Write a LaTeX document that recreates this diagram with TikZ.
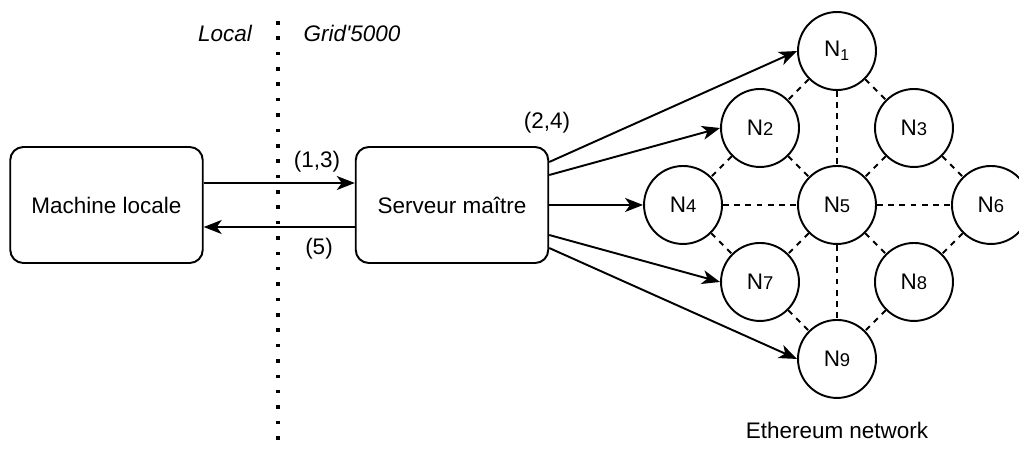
\documentclass[tikz,border=0pt]{standalone}
\usepackage{fontspec}
\setmainfont{Liberation Sans}
\usetikzlibrary{arrows.meta}
\newcommand{\peerlabel}[1]{N{\fontsize{10.5}{12}\selectfont #1}}

\begin{document}
\begin{tikzpicture}[x=0.02cm, y=-0.02cm, node distance={2.178cm},
		font=\fontsize{12.8}{15}\selectfont, line width=1.1pt,
		main/.style = {draw, circle, minimum size=1.56cm, inner sep=0pt},
		box/.style = {draw, rounded corners=0.26cm, minimum width=3.85cm, minimum height=2.32cm},
		link/.style = {-{Stealth[length=0.36cm, width=0.28cm, inset=0.1cm]}},
		peer/.style = {dash pattern=on 3.2pt off 3.2pt},
		sep/.style = {line width=2pt, dash pattern=on 2pt off 6.75pt}]
			\useasboundingbox (0,0) rectangle (1019,450);
			\node[box] (local) at (106.5,205) {Machine locale};
			\node[box] (maitre) at (452,205) {Serveur maître};
			\node[main] (1) at (837,51) {N\textsubscript{1}};
			\node[main] (2) [below left of=1] {\peerlabel{2}};
			\node[main] (3) [below right of=1] {\peerlabel{3}};
			\node[main] (4) [below left of=2] {\peerlabel{4}};
			\node[main] (5) [below right of=2] {\peerlabel{5}};
			\node[main] (6) [below right of=3] {\peerlabel{6}};
			\node[main] (7) [below right of=4] {\peerlabel{7}};
			\node[main] (8) [below right of=5] {\peerlabel{8}};
			\node[main] (9) [below right of=7] {\peerlabel{9}};
			\coordinate (top) at (278,21);
			\coordinate (bottom) at (278,440);
			\draw[sep] (top) -- (bottom);
			\node (loc) at (225,33) {\itshape Local};
			\node (grid) at (352,33) {\itshape Grid\textquotesingle 5000};
			\node (req) at (317,162) {(1,3)};
			\node (res) at (319,249) {(5)};
			\node (dep) at (547,123) {(2,4)};
			\node (eth) at (837,430) {Ethereum network};
			\draw[link] ([yshift=0.44cm]local.east) -- ([yshift=0.44cm]maitre.west);
			\draw[link] ([yshift=-0.44cm]maitre.west) -- ([yshift=-0.44cm]local.east);
			\draw[link] ([yshift=0.86cm]maitre.east) -- (1.west);
			\draw[link] ([yshift=0.6cm]maitre.east) -- (2.west);
			\draw[link] (maitre.east) -- (4.west);
			\draw[link] ([yshift=-0.6cm]maitre.east) -- (7.west);
			\draw[link] ([yshift=-0.86cm]maitre.east) -- (9.west);
			\draw[peer] (1) -- (2);
			\draw[peer] (1) -- (3);
			\draw[peer] (1) -- (5);
			\draw[peer] (2) -- (4);
			\draw[peer] (2) -- (5);
			\draw[peer] (3) -- (5);
			\draw[peer] (3) -- (6);
			\draw[peer] (4) -- (5);
			\draw[peer] (5) -- (6);
			\draw[peer] (4) -- (7);
			\draw[peer] (5) -- (7);
			\draw[peer] (5) -- (8);
			\draw[peer] (6) -- (8);
			\draw[peer] (7) -- (9);
			\draw[peer] (5) -- (9);
			\draw[peer] (8) -- (9);
		\end{tikzpicture}
\end{document}
